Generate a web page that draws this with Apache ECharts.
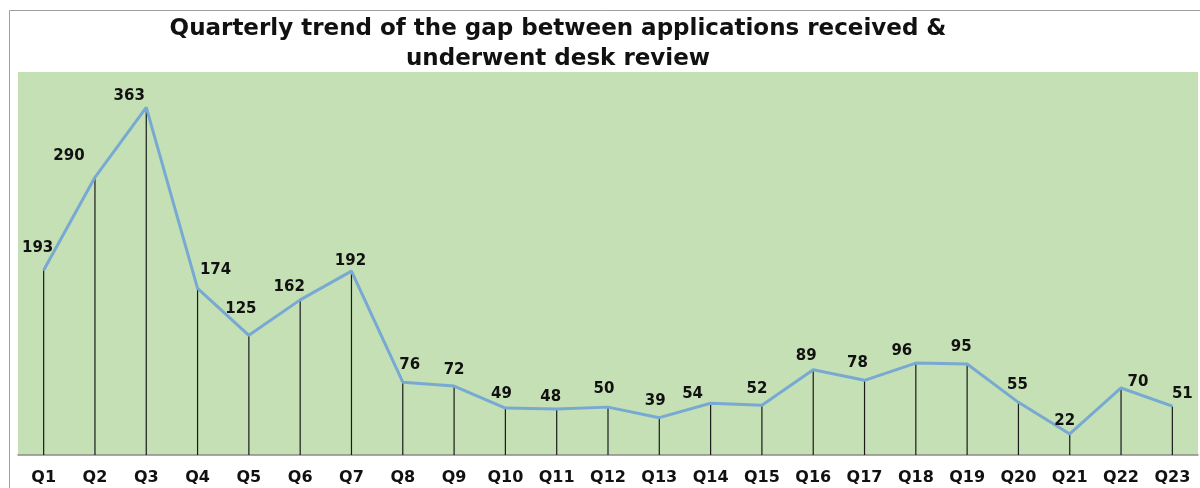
<!DOCTYPE html>
<html>
<head>
<meta charset="utf-8">
<script src="https://cdn.jsdelivr.net/npm/echarts@6/dist/echarts.min.js"></script>
<style>html,body{margin:0;padding:0;background:#fff}#main{width:1200px;height:488px}</style>
</head>
<body>
<div id="main"></div>
<script>
var quarters = ["Q1","Q2","Q3","Q4","Q5","Q6","Q7","Q8","Q9","Q10","Q11","Q12","Q13","Q14","Q15","Q16","Q17","Q18","Q19","Q20","Q21","Q22","Q23"];
var gap = [193,290,363,174,125,162,192,76,72,49,48,50,39,54,52,89,78,96,95,55,22,70,51];

// label nudges [dx, dy] relative to default top placement
var labelShift = [[-6,-8],[-26,-7],[-17,3],[18,-4],[-8,-12],[-11,1],[-1,4],[7,-3],[0,-2],[-4,0],[-6,2],[-4,-4],[-4,-3],[-18,5],[-5,-2],[-7,0],[-7,-3],[-14,2],[-6,-3],[-1,-3],[-5,1],[17,8],[10,2]];

var myChart = echarts.init(document.getElementById("main"));
var option = {
    backgroundColor: "#fff",
    animation: false,
    title: {
        text: "Quarterly trend of the gap between applications received &\nunderwent desk review",
        left: 553,
        top: 9,
        textAlign: "center",
        textStyle: {
            fontFamily: "DejaVu Sans",
            fontSize: 23,
            fontWeight: "bold",
            color: "#111",
            lineHeight: 30
        }
    },
    graphic: [{
        type: "rect",
        shape: { x: 9.5, y: 10.5, width: 1200, height: 500 },
        style: { fill: null, stroke: "#a0a0a0", lineWidth: 1 },
        z: -1
    }],
    grid: {
        left: 18,
        right: 2,
        top: 72,
        bottom: 33,
        show: true,
        backgroundColor: "#c5e0b4",
        borderWidth: 0
    },
    xAxis: {
        type: "category",
        data: quarters,
        boundaryGap: true,
        axisLine: { lineStyle: { color: "#8a8a8a", width: 1.5 } },
        axisTick: { show: false },
        axisLabel: {
            interval: 0,
            margin: 15,
            color: "#111",
            fontFamily: "DejaVu Sans",
            fontWeight: "bold",
            fontSize: 16
        }
    },
    yAxis: {
        type: "value",
        min: 0,
        max: 400,
        show: false,
        splitLine: { show: false }
    },
    series: [{
        name: "drop",
        type: "bar",
        data: gap,
        barWidth: 1.2,
        itemStyle: { color: "#1a1a1a" },
        silent: true,
        z: 1
    }, {
        name: "Gap",
        type: "line",
        data: gap.map(function (v, i) {
            return {
                value: v,
                label: { offset: labelShift[i] }
            };
        }),
        symbol: "circle",
        symbolSize: 1,
        showSymbol: true,
        itemStyle: { color: "#78a9d3" },
        lineStyle: { color: "#78a9d3", width: 3 },
        label: {
            show: true,
            position: "top",
            distance: 6,
            color: "#111",
            fontFamily: "DejaVu Sans",
            fontWeight: "bold",
            fontSize: 15
        },
        z: 3
    }]
};
myChart.setOption(option);
</script>
</body>
</html>
